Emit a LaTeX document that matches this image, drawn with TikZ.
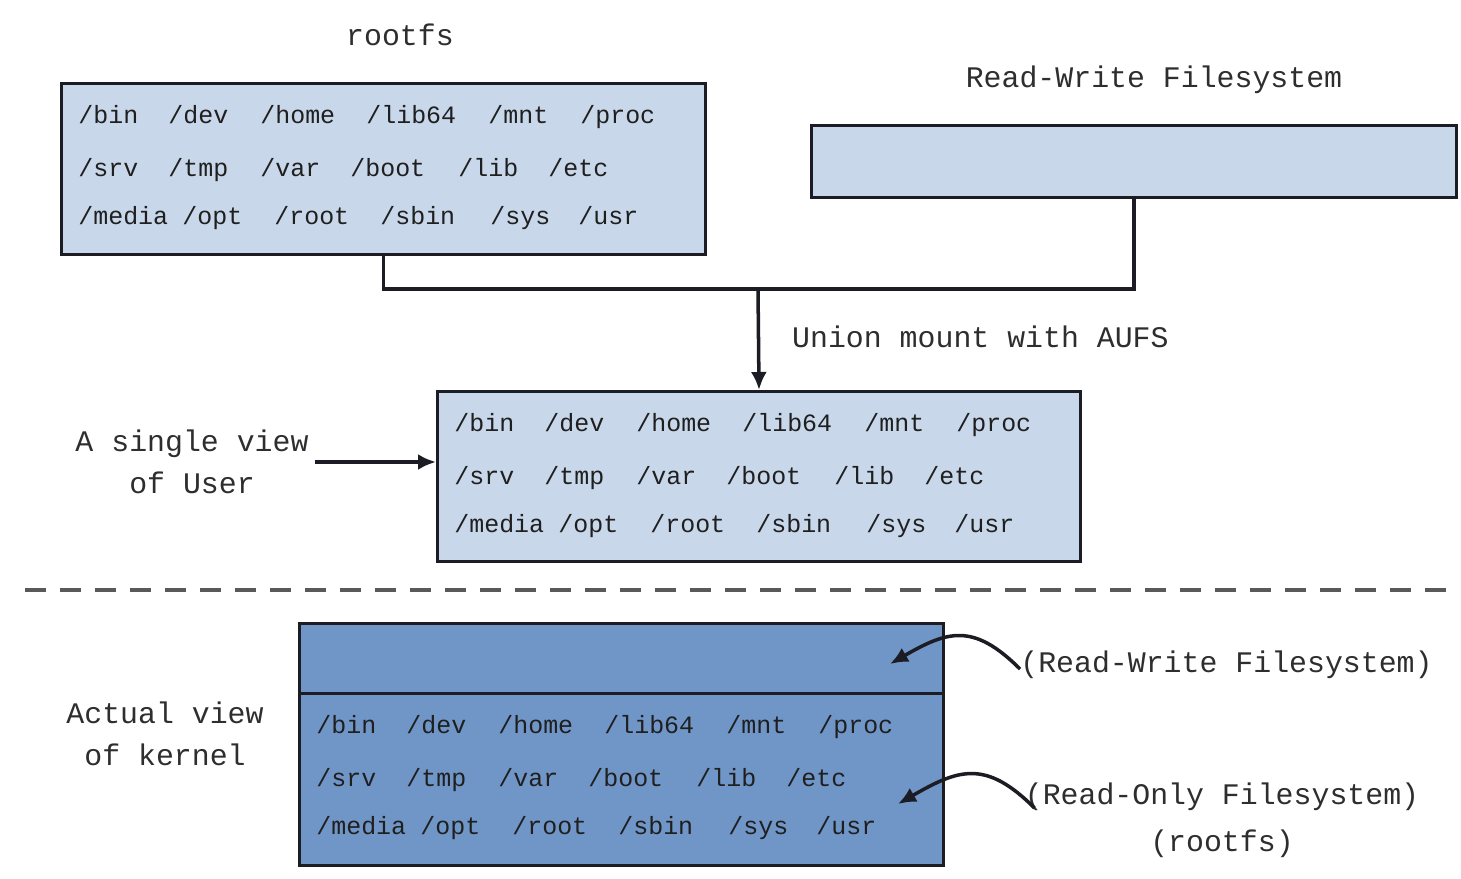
\documentclass[tikz,border=0pt]{standalone}
\usepackage{fontspec}
\setmainfont{Liberation Mono}
\usetikzlibrary{positioning, arrows.meta, calc}
\definecolor{paleblue}{HTML}{C8D7EA}
\definecolor{deepblue}{HTML}{7096C8}
\definecolor{ink}{HTML}{1C1C24}

% the 18 top-level directories, placed inside box #1
\newcommand{\dirgrid}[1]{%
  \foreach \dx/\dy/\dname in {18/41/bin, 108/41/dev, 200/41/home, 306/41/lib64, 428/41/mnt, 520/41/proc,
      18/94/srv, 108/94/tmp, 200/94/var, 290/94/boot, 398/94/lib, 488/94/etc,
      18/142/media, 122/142/opt, 214/142/root, 320/142/sbin, 430/142/sys, 518/142/usr}
    \node[dir, anchor=base west] (#1-\dname) at ($(#1.north west)+(\dx,\dy)$) {/\dname};%
}

\begin{document}
\begin{tikzpicture}[
  x=0.02cm, y=-0.02cm,
  box/.style={draw=ink, line width=1.8pt, fill=paleblue, minimum width=12.88cm,
              inner sep=0pt, anchor=north west},
  kbox/.style={box, fill=deepblue},
  dir/.style={font=\fontsize{14.2}{17}\selectfont, text=black!88, inner sep=0pt},
  lbl/.style={font=\fontsize{17}{24}\selectfont, text=black!82, align=center},
  line/.style={draw=ink, line width=2pt},
  arr/.style={line, -{Latex[length=3.6mm, width=3.2mm]}}
]
  \useasboundingbox (0,0) rectangle (1461,879);

  % upper layers
  \node[box, minimum height=3.42cm] (ro) at (60,82) {};
  \node[lbl] (rolabel) at (400,35) {rootfs};
  \dirgrid{ro}
  \node[box, minimum width=12.9cm, minimum height=1.44cm] (rw) at (810,124) {};
  \node[lbl] (rwlabel) at (1154,80) {Read-Write Filesystem};

  % union mount
  \coordinate (mrg) at (758,289);
  \draw[line] (ro.south) |- (mrg) -| (rw.south);
  \node[box, minimum width=12.86cm, minimum height=3.4cm] (uv) at (436,390) {};
  \dirgrid{uv}
  \draw[arr] (mrg) -- (uv.north);
  \node[lbl, anchor=west] (union) at (786,337) {Union mount with AUFS};

  \node[lbl] (user) at (192,462) {A single view\\of User};
  \draw[arr] (user.east) -- (user.east -| uv.west);

  % separator
  \coordinate (sepL) at (25,590);
  \coordinate (sepR) at (1455,590);
  \draw[draw=black!65, line width=2pt, dash pattern=on 0.42cm off 0.28cm] (sepL) -- (sepR);

  % kernel view
  \node[kbox, minimum height=1.4cm] (kw) at (298,622) {};
  \node[kbox, minimum height=3.44cm] (kr) at (298,692) {};
  \dirgrid{kr}
  \node[lbl] (kernel) at (165,734) {Actual view\\of kernel};

  \node[lbl, anchor=west, inner sep=0pt] (rwl) at (1020,665) {(Read-Write Filesystem)};
  \node[lbl, anchor=north, inner sep=0pt, font=\fontsize{17}{27}\selectfont] (rol) at (1222,782)
    {(Read-Only Filesystem)\\(rootfs)};
  \coordinate (rwtip) at (890,664);
  \coordinate (rotip) at (898,804);
  \draw[arr] ($(rwl.west)+(0,4)$) to[out=135, in=30, looseness=1.3] (rwtip);
  \draw[arr] ($(rol.north west)+(10,26)$) to[out=135, in=30, looseness=1.3] (rotip);
\end{tikzpicture}
\end{document}
